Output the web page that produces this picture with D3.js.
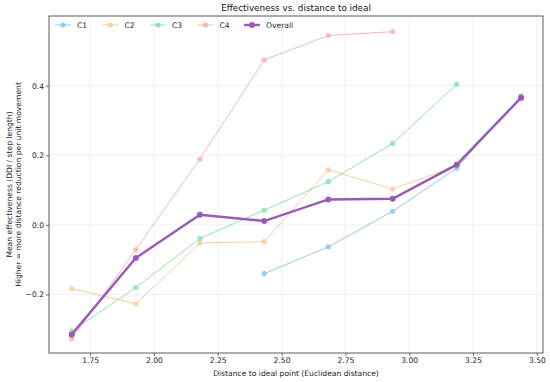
<!DOCTYPE html>
<html>
<head>
<meta charset="utf-8">
<script src="https://cdn.jsdelivr.net/npm/d3@7"></script>
<style>
  body { margin: 0; background: #fff; }
  text { font-family: "DejaVu Sans", sans-serif; }
</style>
</head>
<body>
<script>
// distances (x) shared by every series
var distances = [1.678, 1.929, 2.18, 2.432, 2.683, 2.935, 3.186, 3.438];

// mean effectiveness per cluster, null = no data at that distance
var c1 = [null, null, null, -0.140, -0.063, 0.039, 0.163, 0.371];
var c2 = [-0.183, -0.227, -0.052, -0.048, 0.158, 0.103, 0.170, 0.362];
var c3 = [-0.305, -0.180, -0.039, 0.042, 0.124, 0.234, 0.404, null];
var c4 = [-0.327, -0.071, 0.189, 0.474, 0.544, 0.555, null, null];
var overall = [-0.315, -0.095, 0.029, 0.011, 0.073, 0.075, 0.173, 0.365];

var seriesNames = ["C1", "C2", "C3", "C4", "Overall"];
var seriesValues = [c1, c2, c3, c4, overall];
var seriesColors = ["#5dade2", "#f8b572", "#58d68d", "#f1948a", "#9b59b6"];

var xTicks = [1.75, 2.00, 2.25, 2.50, 2.75, 3.00, 3.25, 3.50];
var yTicks = [-0.2, 0.0, 0.2, 0.4];

var width = 550, height = 382;
var margin = {top: 16, right: 7, bottom: 29, left: 49};

var svg = d3.select("body").append("svg")
    .attr("width", width)
    .attr("height", height);

var x = d3.scaleLinear()
    .domain([1.589, 3.524])
    .range([margin.left, width - margin.right]);

var y = d3.scaleLinear()
    .domain([-0.368, 0.6])
    .range([height - margin.bottom, margin.top]);

// grid
svg.append("g")
  .selectAll("line")
  .data(xTicks)
  .enter().append("line")
    .attr("x1", function(d) { return x(d); })
    .attr("x2", function(d) { return x(d); })
    .attr("y1", margin.top)
    .attr("y2", height - margin.bottom)
    .style("stroke", "#b0b0b0")
    .style("stroke-opacity", 0.3)
    .style("stroke-width", 0.6);

svg.append("g")
  .selectAll("line")
  .data(yTicks)
  .enter().append("line")
    .attr("x1", margin.left)
    .attr("x2", width - margin.right)
    .attr("y1", function(d) { return y(d); })
    .attr("y2", function(d) { return y(d); })
    .style("stroke", "#b0b0b0")
    .style("stroke-opacity", 0.3)
    .style("stroke-width", 0.6);

// axes
var xAxis = svg.append("g")
    .attr("transform", "translate(0," + (height - margin.bottom) + ")")
    .call(d3.axisBottom(x).tickValues(xTicks).tickFormat(d3.format(".2f")).tickSize(3).tickPadding(2));

var yAxis = svg.append("g")
    .attr("transform", "translate(" + margin.left + ",0)")
    .call(d3.axisLeft(y).tickValues(yTicks).tickFormat(function(d) {
      return d3.format(".1f")(d).replace("-", "\u2212");
    }).tickSize(3).tickPadding(2));

[xAxis, yAxis].forEach(function(a) {
  a.selectAll("text").style("font-size", "7.6px").style("fill", "#222");
  a.selectAll("line").style("stroke", "#333").style("stroke-width", 0.7);
  a.select(".domain").remove();
});

// frame
svg.append("rect")
    .attr("x", margin.left)
    .attr("y", margin.top)
    .attr("width", width - margin.right - margin.left)
    .attr("height", height - margin.bottom - margin.top)
    .style("fill", "none")
    .style("stroke", "#333")
    .style("stroke-width", 0.8);

// lines + markers
var line = d3.line()
    .defined(function(d) { return d[1] != null; })
    .x(function(d) { return x(d[0]); })
    .y(function(d) { return y(d[1]); });

seriesValues.forEach(function(vals, i) {
  var isOverall = seriesNames[i] == "Overall";
  var pts = distances.map(function(d, j) { return [d, vals[j]]; });
  var g = svg.append("g").style("opacity", isOverall ? 1 : 0.65);

  g.append("path")
    .datum(pts)
    .attr("d", line)
    .style("fill", "none")
    .style("stroke", seriesColors[i])
    .style("stroke-width", isOverall ? 2.4 : 1);

  g.selectAll("circle")
    .data(pts.filter(function(p) { return p[1] != null; }))
    .enter().append("circle")
      .attr("cx", function(p) { return x(p[0]); })
      .attr("cy", function(p) { return y(p[1]); })
      .attr("r", isOverall ? 3 : 2.6)
      .style("fill", seriesColors[i])
      .style("opacity", isOverall ? 1 : 0.9);
});

// legend
var legendX = [55, 102.5, 150, 197.5, 244];
seriesNames.forEach(function(name, i) {
  var isOverall = name == "Overall";
  var g = svg.append("g")
      .attr("transform", "translate(" + legendX[i] + ",25)")
      .style("opacity", isOverall ? 1 : 0.65);
  g.append("line")
    .attr("x1", 0).attr("x2", 16)
    .style("stroke", seriesColors[i])
    .style("stroke-width", isOverall ? 2.4 : 1);
  g.append("circle")
    .attr("cx", 8).attr("r", isOverall ? 3 : 2.6)
    .style("fill", seriesColors[i]);
  svg.append("text")
    .attr("x", legendX[i] + 22)
    .attr("y", 25)
    .attr("dy", "0.35em")
    .style("font-size", "7.6px")
    .style("fill", "#222")
    .text(name);
});

// title and labels
svg.append("text")
    .attr("x", (margin.left + width - margin.right) / 2)
    .attr("y", 11)
    .attr("text-anchor", "middle")
    .style("font-size", "8.8px")
    .style("fill", "#111")
    .text("Effectiveness vs. distance to ideal");

svg.append("text")
    .attr("x", (margin.left + width - margin.right) / 2)
    .attr("y", 376)
    .attr("text-anchor", "middle")
    .style("font-size", "7.6px")
    .style("fill", "#222")
    .text("Distance to ideal point (Euclidean distance)");

var yl = svg.append("text")
    .attr("transform", "translate(12," + ((margin.top + height - margin.bottom) / 2) + ") rotate(-90)")
    .attr("text-anchor", "middle")
    .style("font-size", "7.6px")
    .style("fill", "#222");
yl.append("tspan").attr("x", 0).attr("y", 0).text("Mean effectiveness (DDI / step length)");
yl.append("tspan").attr("x", 0).attr("y", 9.2).text("Higher = more distance reduction per unit movement");
</script>
</body>
</html>
